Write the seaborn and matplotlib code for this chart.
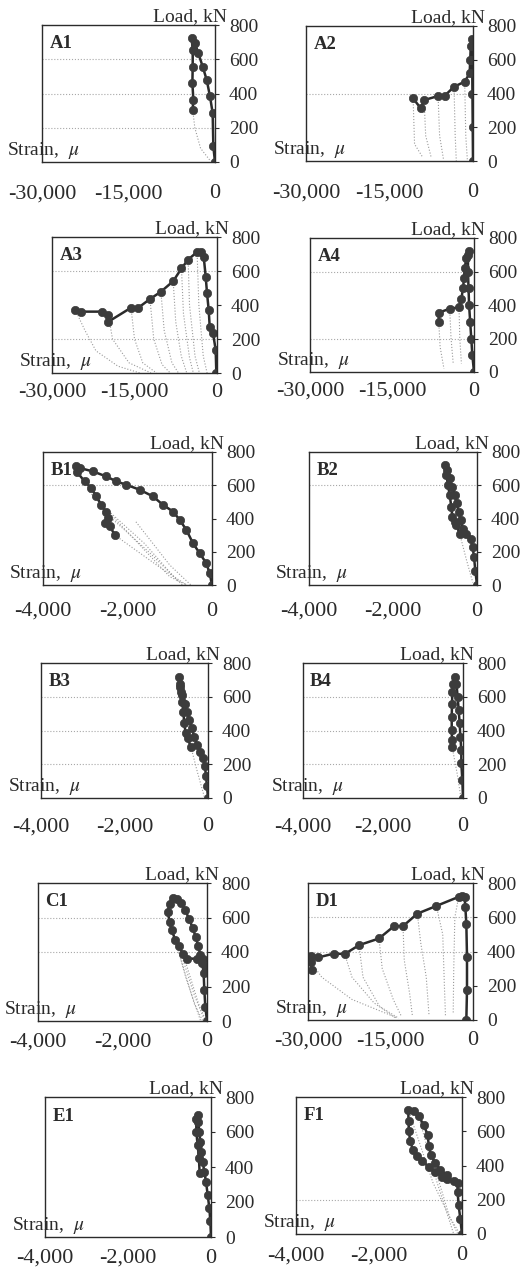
import matplotlib
matplotlib.use("Agg")
import matplotlib.pyplot as plt
import seaborn as sns

# Load-strain curves of bars, one small panel per specimen

sns.set_style("white")
plt.rcParams['font.family'] = ['Liberation Serif', 'DejaVu Serif']
plt.rcParams['mathtext.fontset'] = 'stix'

# ---------------- data (strain in micro-strain, load in kN) ----------------
A1_strain = [0, -288, -404, -866, -1443, -2135, -2885, -3462, -4040, -3866, -3866, -3924, -3750, -3866]
A1_load = [0, 91, 285, 383, 480, 557, 635, 693, 722, 654, 557, 460, 363, 305]
A1_unload = [([-3866, -3500, -2500, -1000, -300], [305, 200, 80, 15, 0])]

A2_strain = [0, -50, -100, -150, -200, -400, -500, -600, -1494, -3406, -5080, -6275, -8785, -9382, -10757]
A2_load = [0, 200, 400, 600, 720, 680, 600, 520, 470, 440, 387, 385, 361, 312, 371]
A2_unload = [([-10757, -10500, -9000], [371, 100, 20]),
             ([-8785, -8500, -7500], [361, 150, 20]),
             ([-6275, -6000, -5300], [385, 150, 10]),
             ([-3406, -3200, -3000], [440, 150, 0]),
             ([-1494, -1300, -1000], [470, 150, 0])]

A3_strain = [-121, -241, -724, -1328, -1509, -1811, -2052, -2414, -2837, -3622, -5251, -6459,
             -7968, -10201, -12193, -14305, -15633, -19738, -19738, -20945, -24748, -25774]
A3_load = [0, 137, 234, 273, 371, 468, 566, 683, 712, 712, 667, 615,
           540, 478, 435, 384, 384, 302, 341, 361, 361, 371]
A3_unload = [([-25774, -24000, -22000, -18000, -14000], [371, 250, 130, 40, 0]),
             ([-19738, -19000, -16000, -12000], [341, 200, 60, 0]),
             ([-15633, -15000, -13500, -11000], [384, 200, 60, 0]),
             ([-12193, -11500, -10000, -8500], [435, 200, 50, 0]),
             ([-10201, -9600, -8200, -7000], [478, 250, 60, 0]),
             ([-7968, -7500, -6500, -5500], [540, 300, 100, 0]),
             ([-6459, -6100, -5000, -4300], [615, 350, 90, 0]),
             ([-5251, -5000, -4000, -3200], [667, 400, 100, 0]),
             ([-3622, -3300, -2500, -1800], [712, 400, 100, 0])]

A4_strain = [0, -300, -500, -700, -900, -1000, -1100, -1100, -1000, -1400, -1704, -1826,
             -2008, -2312, -2738, -4442, -6450, -6450]
A4_load = [0, 100, 200, 300, 400, 500, 600, 700, 720, 680, 620, 560,
           499, 438, 386, 378, 354, 301]
A4_unload = [([-6450, -6200, -5500], [301, 150, 20]),
             ([-4442, -4200, -3800], [378, 200, 50]),
             ([-2738, -2600, -2300], [386, 200, 50])]

B1_strain = [0, -55, -134, -292, -450, -608, -765, -923, -1160, -1397, -1712, -2028, -2264,
             -2501, -2817, -3132, -3227, -3188, -3014, -2856, -2738, -2620, -2517, -2462,
             -2541, -2422, -2304]
B1_load = [0, 70, 131, 191, 251, 332, 392, 442, 482, 533, 573, 603, 623,
           653, 683, 704, 718, 677, 623, 583, 533, 482, 442, 402,
           372, 356, 302]
B1_unload = [([-2900, -1000, -600], [560, 50, 0]),
             ([-2500, -1500, -700], [430, 200, 0]),
             ([-2300, -1200, -600], [300, 100, 0]),
             ([-1800, -1000, -500], [380, 120, 0]),
             ([-2600, -1600, -800], [480, 250, 20])]

B2_strain = [0, -40, -71, -103, -151, -254, -333, -389, -437, -484, -532, -588, -643, -707, -770,
             -730, -691, -651, -611, -588, -532, -492, -413]
B2_load = [0, 87, 168, 228, 279, 309, 339, 390, 440, 491, 541, 592, 642, 693, 723,
           663, 602, 541, 471, 410, 380, 360, 309]
B2_unload = [([-413, -250, -100], [309, 150, 15])]

B3_strain = [0, -24, -48, -72, -120, -200, -264, -328, -392, -448, -504, -560, -616, -664, -696,
             -680, -648, -616, -592, -568, -536, -488, -408]
B3_load = [0, 69, 128, 187, 236, 275, 315, 364, 413, 462, 511, 560, 609, 659, 718,
           678, 629, 570, 511, 442, 383, 354, 301]
B3_unload = [([-408, -250, -80], [301, 150, 0])]

B4_strain = [0, -17, -42, -42, -66, -83, -108, -133, -166, -207,
             -249, -266, -274, -282, -282, -274, -274]
B4_load = [0, 108, 206, 285, 364, 442, 521, 600, 678, 718,
           678, 629, 560, 482, 403, 344, 305]
B4_unload = [([-274, -150, -50], [305, 150, 0])]

C1_strain = [0, -40, -63, -79, -111, -158, -206, -269, -341, -428, -523, -618, -713, -808,
             -887, -927, -887, -832, -752, -673, -570, -475, -238, -95, -16]
C1_load = [0, 83, 179, 276, 334, 382, 434, 488, 542, 594, 646, 684, 708, 715,
           681, 632, 575, 526, 469, 434, 391, 362, 361, 357, 314]
C1_unload = [([-887, -300, -100], [575, 100, 0]),
             ([-673, -300, -50], [434, 150, 0]),
             ([-570, -200, -20], [391, 100, 0]),
             ([-927, -500, -150], [632, 250, 0])]

D1_strain = [-1212, -1091, -1091, -1212, -1394, -1515, -2000, -2606, -6666, -10120, -12726,
             -14362, -17089, -20725, -23331, -25270, -28179, -29512, -29512, -29270]
D1_load = [0, 175, 369, 563, 660, 719, 722, 719, 666, 621, 548,
           548, 476, 437, 385, 388, 365, 373, 340, 291]
D1_unload = [([-6666, -5500, -5200, -5000], [666, 500, 200, 20]),
             ([-10120, -9500, -8500, -8000], [621, 450, 250, 30]),
             ([-12726, -12500, -11500, -11000], [548, 350, 150, 20]),
             ([-17089, -16500, -14500, -13000], [476, 300, 120, 20]),
             ([-20725, -20000, -17000, -13500], [437, 250, 80, 10]),
             ([-23331, -22000, -18000, -14000], [385, 250, 100, 10]),
             ([-29512, -27500, -22000, -14000], [340, 250, 120, 15]),
             ([-2606, -3300, -3500, -3600], [719, 600, 300, 40])]

E1_strain = [0, -16, -40, -80, -121, -161, -201, -233, -258, -282, -306, -322,
             -354, -354, -322, -290, -274]
E1_load = [0, 89, 165, 241, 317, 374, 430, 487, 544, 601, 658, 696,
           677, 601, 525, 449, 364]
E1_unload = []

F1_strain = [0, -40, -81, -105, -105, -201, -362, -483, -644, -805, -966, -1087, -1183, -1248,
             -1280, -1288, -1296, -1167, -1047, -926, -829, -797, -749, -644, -523, -362]
F1_load = [0, 88, 167, 246, 295, 309, 320, 334, 364, 393, 427, 456, 492, 541,
           600, 659, 727, 718, 688, 639, 580, 511, 462, 413, 374, 344]
F1_unload = [([-1296, -700, -100], [727, 300, 0]),
             ([-1047, -600, -200], [688, 300, 0]),
             ([-749, -300, -50], [462, 100, 0])]

panel_names = ['A1', 'A2', 'A3', 'A4', 'B1', 'B2', 'B3', 'B4', 'C1', 'D1', 'E1', 'F1']
strain_limits = [-30000, -30000, -30000, -30000, -4000, -4000, -4000, -4000, -4000, -30000, -4000, -4000]
load_ticks = [0, 200, 400, 600, 800]

# ---------------- layout (pixel boxes: left, top, right, bottom) ----------------
W, H = 531, 1275
boxes = {
    'A1': (42, 25, 215, 162), 'A2': (306, 26, 473, 161),
    'A3': (52, 237, 217, 373), 'A4': (310, 238, 474, 372),
    'B1': (43, 452, 212, 585), 'B2': (309, 452, 477, 585),
    'B3': (41, 663, 208, 798), 'B4': (303, 663, 463, 798),
    'C1': (38, 883, 207, 1021), 'D1': (308, 883, 473, 1020),
    'E1': (45, 1097, 211, 1237), 'F1': (296, 1097, 462, 1234),
}
# gap (pt) between bottom spine and strain tick labels
row_pad = {'A1': 16, 'A2': 16, 'A3': 7, 'A4': 7, 'B1': 12, 'B2': 12,
           'B3': 14, 'B4': 14, 'C1': 8, 'D1': 8, 'E1': 8.5, 'F1': 9}
grid_levels = {
    'A1': [200, 400, 600], 'A2': [400], 'A3': [200, 600], 'A4': [200, 600],
    'B1': [600], 'B2': [600], 'B3': [200, 400, 600], 'B4': [200, 400, 600],
    'C1': [400, 600], 'D1': [400, 600], 'E1': [], 'F1': [200],
}
series = {
    'A1': (A1_strain, A1_load, A1_unload), 'A2': (A2_strain, A2_load, A2_unload),
    'A3': (A3_strain, A3_load, A3_unload), 'A4': (A4_strain, A4_load, A4_unload),
    'B1': (B1_strain, B1_load, B1_unload), 'B2': (B2_strain, B2_load, B2_unload),
    'B3': (B3_strain, B3_load, B3_unload), 'B4': (B4_strain, B4_load, B4_unload),
    'C1': (C1_strain, C1_load, C1_unload), 'D1': (D1_strain, D1_load, D1_unload),
    'E1': (E1_strain, E1_load, E1_unload), 'F1': (F1_strain, F1_load, F1_unload),
}

ink = '#2b2b2b'
fig = plt.figure(figsize=(W / 100, H / 100), dpi=100)

for name, xmin in zip(panel_names, strain_limits):
    x0, y0, x1, y1 = boxes[name]
    ax = fig.add_axes([x0 / W, (H - y1) / H, (x1 - x0) / W, (y1 - y0) / H])
    strain, load, unload = series[name]

    for lvl in grid_levels[name]:
        ax.axhline(lvl, color='#a8a8a8', lw=0.8, ls=':', zorder=0)

    # unloading / reloading cycles
    for us, ul in unload:
        sns.lineplot(x=us, y=ul, sort=False, estimator=None, ax=ax,
                     color='#9a9a9a', lw=0.8, ls=':')

    # envelope with measured points
    sns.lineplot(x=strain, y=load, sort=False, estimator=None, ax=ax,
                 color=ink, lw=1.8, marker='o', markersize=6,
                 markerfacecolor='#3c3c3c', markeredgecolor='#3c3c3c', markeredgewidth=0.5)

    ax.set_xlim(xmin, 0)
    ax.set_ylim(0, 800)
    ax.set_xticks([xmin, xmin / 2, 0])
    ax.set_xticklabels([f'{int(v):,}' for v in [xmin, xmin / 2, 0]])
    ax.set_yticks(load_ticks)
    ax.set_xlabel('')
    ax.set_ylabel('')
    ax.yaxis.tick_right()
    ax.tick_params(axis='y', which='both', direction='out', length=3, width=0.8,
                   pad=7, labelsize=14, colors=ink, left=False, right=True)
    ax.tick_params(axis='x', which='both', direction='in', length=3, width=0.8,
                   pad=row_pad[name], labelsize=16, colors=ink)
    for sp in ax.spines.values():
        sp.set_visible(True)
        sp.set_color(ink)
        sp.set_linewidth(1.0)

    ax.text(0.045, 0.83, name, transform=ax.transAxes, fontsize=13.5,
            fontweight='bold', color=ink, va='baseline', ha='left')
    ax.text(1.07, 1.03, 'Load, kN', transform=ax.transAxes, fontsize=14,
            color=ink, va='baseline', ha='right')
    ax.text(-0.2, 0.05, r'Strain,  $\mu$', transform=ax.transAxes, fontsize=14,
            color=ink, va='baseline', ha='left')

fig.savefig('out.png', dpi=100)
